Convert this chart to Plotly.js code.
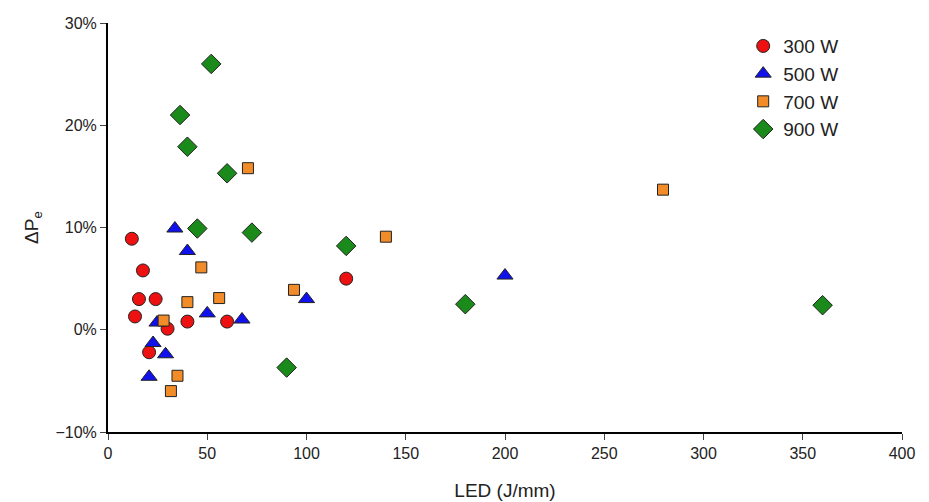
<!DOCTYPE html>
<html><head><script src="https://cdn.plot.ly/plotly-3.0.1.min.js"></script>
<style>body{margin:0}</style></head><body><div id="chart" style="width:929px;height:502px"></div>
<script>
var x300 = [12, 17.6, 15.6, 24, 13.6, 30, 40, 60, 20.7, 120];
var y300 = [8.9, 5.8, 3.0, 3.0, 1.3, 0.1, 0.8, 0.8, -2.2, 5.0];
var x500 = [33.7, 40, 24.7, 50, 67.5, 22.7, 29, 20.7, 100, 200];
var y500 = [9.9, 7.7, 0.7, 1.6, 1.0, -1.3, -2.4, -4.6, 3.0, 5.3];
var x700 = [28, 47, 40, 56, 35, 31.7, 70.5, 93.7, 140, 279.6];
var y700 = [0.9, 6.1, 2.7, 3.1, -4.5, -6.0, 15.8, 3.9, 9.1, 13.7];
var x900 = [52, 36.3, 40, 60, 45, 72.5, 90, 120, 180, 360];
var y900 = [26, 21, 17.9, 15.3, 9.9, 9.5, -3.7, 8.2, 2.5, 2.4];

function makeTrace(x, y, name, symbol, color, size) {
	return {
		x : x,
		y : y.map(function(v) { return v / 100; }),
		name : name,
		type : 'scatter',
		mode : 'markers',
		marker : { symbol : symbol, color : color, size : size, line : { color : '#222', width : 1 } }
	};
}

var data = [
	makeTrace(x300, y300, '300 W', 'circle', '#ee1111', 13),
	makeTrace(x500, y500, '500 W', 'triangle-up', '#1111ee', 14),
	makeTrace(x700, y700, '700 W', 'square', '#f28c28', 11),
	makeTrace(x900, y900, '900 W', 'diamond', '#1a8a1a', 15)
];

var layout = {
	width : 929, height : 502,
	margin : { l : 108, r : 27, t : 23, b : 70 },
	font : { family : 'Arial, Liberation Sans', size : 16, color : '#222' },
	paper_bgcolor : 'white', plot_bgcolor : 'white',
	showlegend : true,
	legend : { x : 0.8, y : 0.99, font : { size : 19 }, tracegroupgap : 2, bgcolor : 'rgba(0,0,0,0)' },
	xaxis : {
		range : [0, 400], dtick : 50, showgrid : false, zeroline : false,
		showline : true, linecolor : '#000', linewidth : 2, ticks : 'outside', ticklen : 6,
		title : { text : 'LED (J/mm)', font : { size : 19 }, standoff : 22 }
	},
	yaxis : {
		range : [-0.1, 0.3], dtick : 0.1, tickformat : '.0%', showgrid : false, zeroline : false,
		showline : true, linecolor : '#000', linewidth : 2, ticks : 'outside', ticklen : 6,
		title : { text : 'ΔP<sub>e</sub>', font : { size : 19 }, standoff : 12 }
	}
};

Plotly.newPlot('chart', data, layout, { displayModeBar : false });
</script></body></html>
